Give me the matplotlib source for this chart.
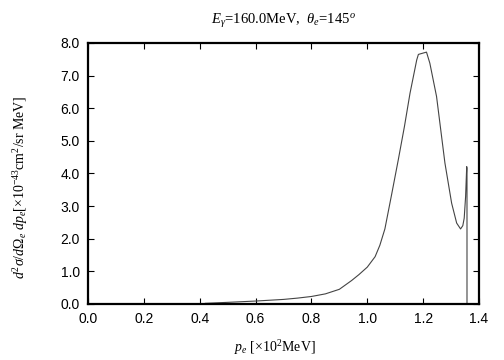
import matplotlib
matplotlib.use('Agg')
import matplotlib.pyplot as plt

# curve (p_e in 10^2 MeV, cross section in 10^-43 cm^2/sr MeV)
p_e = [0.42, 0.50, 0.60, 0.70, 0.75, 0.80, 0.85, 0.90, 0.944, 0.97, 1.00,
       1.028, 1.045, 1.063, 1.087, 1.111, 1.133, 1.153, 1.177, 1.183, 1.212,
       1.224, 1.248, 1.278, 1.302, 1.320, 1.334, 1.342, 1.347, 1.352, 1.356,
       1.357, 1.357]
xsec = [0.02, 0.05, 0.09, 0.14, 0.18, 0.23, 0.31, 0.45, 0.72, 0.90, 1.13,
        1.45, 1.80, 2.30, 3.35, 4.42, 5.44, 6.46, 7.48, 7.65, 7.72,
        7.38, 6.36, 4.32, 3.09, 2.48, 2.30, 2.40, 2.63, 3.29, 4.21,
        4.15, 0.0]

xticks = [0.0, 0.2, 0.4, 0.6, 0.8, 1.0, 1.2, 1.4]
yticks = [0.0, 1.0, 2.0, 3.0, 4.0, 5.0, 6.0, 7.0, 8.0]

plt.rcParams['mathtext.fontset'] = 'custom'
plt.rcParams['mathtext.rm'] = 'Liberation Serif'
plt.rcParams['mathtext.it'] = 'Liberation Serif:italic'

fig = plt.figure(figsize=(5.04, 3.6), dpi=100)
ax = fig.add_axes([0.1746, 0.1556, 0.7758, 0.725])

ax.plot(p_e, xsec, color='#444444', linewidth=0.8)

ax.set_xlim(0.0, 1.4)
ax.set_ylim(0.0, 8.0)
ax.set_xticks(xticks)
ax.set_yticks(yticks)
ax.set_xticklabels(['%.1f' % t for t in xticks], family='Liberation Sans', fontsize=10)
ax.set_yticklabels(['%.1f' % t for t in yticks], family='Liberation Sans', fontsize=10)
ax.tick_params(direction='in', top=True, right=True, length=4, width=0.8, pad=6)
for s in ax.spines.values():
    s.set_linewidth(1.6)

ax.set_title(r'$E_\gamma$=160.0MeV,  $\theta_e$=145$^o$', family='Liberation Serif',
             fontsize=10.5, pad=14)
fig.text(0.545, 0.035, r'$p_e$ [$\times$10$^2$MeV]', family='Liberation Serif',
         fontsize=10, ha='center', va='center')
fig.text(0.04, 0.48, r'$d^2\sigma/d\Omega_e\ dp_e$[$\times$10$^{-43}$cm$^2$/sr MeV]',
         family='Liberation Serif', fontsize=10, rotation=90, ha='center', va='center')

fig.savefig('out.png', dpi=100)
